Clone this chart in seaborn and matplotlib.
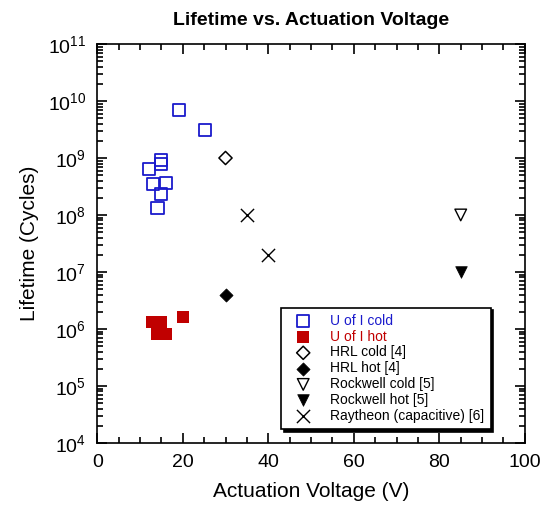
import numpy as np
import pandas as pd
import seaborn as sns
import matplotlib.pyplot as plt
from matplotlib.ticker import MultipleLocator, LogLocator

# Data (voltage in V, lifetime in cycles)
uofi_cold_v = [19.1, 25.1, 15.0, 15.0, 12.0, 13.0, 16.0, 15.0, 14.1]
uofi_cold_life = [6.9e9, 3.1e9, 9.2e8, 7.9e8, 6.4e8, 3.5e8, 3.6e8, 2.3e8, 1.3e8]

uofi_hot_v = [12.9, 15.0, 14.0, 16.2, 20.1]
uofi_hot_life = [1.3e6, 1.3e6, 8.3e5, 8.0e5, 1.6e6]

hrl_cold_v = [30]
hrl_cold_life = [1e9]
hrl_hot_v = [30]
hrl_hot_life = [4e6]

rockwell_cold_v = [85]
rockwell_cold_life = [1e8]
rockwell_hot_v = [85]
rockwell_hot_life = [1e7]

raytheon_v = [35, 40]
raytheon_life = [1e8, 2e7]

sns.set_style("ticks")
plt.rcParams["font.family"] = ["Liberation Sans", "DejaVu Sans"]
plt.rcParams["mathtext.fontset"] = "custom"
plt.rcParams["mathtext.rm"] = "Liberation Sans"
plt.rcParams["mathtext.it"] = "Liberation Sans"
for key in ["text.color", "axes.labelcolor", "xtick.color", "ytick.color", "axes.edgecolor"]:
    plt.rcParams[key] = "black"

blue = "#1a1acc"
red = "#c00000"

fig = plt.figure(figsize=(5.4, 5.18), dpi=100)
ax = fig.add_axes([0.180, 0.145, 0.792, 0.770])

series = [
    ("U of I cold", uofi_cold_v, uofi_cold_life,
     dict(marker="s", s=75, facecolor="none", edgecolor=blue, linewidth=1.3)),
    ("U of I hot", uofi_hot_v, uofi_hot_life,
     dict(marker="s", s=85, color=red, edgecolor=red, linewidth=0)),
    ("HRL cold [4]", hrl_cold_v, hrl_cold_life,
     dict(marker="D", s=45, facecolor="none", edgecolor="black", linewidth=1.1)),
    ("HRL hot [4]", hrl_hot_v, hrl_hot_life,
     dict(marker="D", s=45, color="black", edgecolor="black", linewidth=0.5)),
    ("Rockwell cold [5]", rockwell_cold_v, rockwell_cold_life,
     dict(marker="v", s=70, facecolor="none", edgecolor="black", linewidth=1.0)),
    ("Rockwell hot [5]", rockwell_hot_v, rockwell_hot_life,
     dict(marker="v", s=70, color="black", edgecolor="black", linewidth=0.5)),
    ("Raytheon (capacitive) [6]", raytheon_v, raytheon_life,
     dict(marker="x", s=90, color="black", linewidth=1.0)),
]

for name, xv, yv, kw in series:
    df = pd.DataFrame({"voltage": xv, "lifetime": yv})
    sns.scatterplot(data=df, x="voltage", y="lifetime", ax=ax, label=name, **kw)

ax.set_yscale("log")
ax.set_xlim(0, 100)
ax.set_ylim(1e4, 1e11)

ax.xaxis.set_major_locator(MultipleLocator(20))
ax.xaxis.set_minor_locator(MultipleLocator(5))
ax.yaxis.set_major_locator(LogLocator(base=10, numticks=20))
ax.yaxis.set_minor_locator(LogLocator(base=10, subs=np.arange(2, 10), numticks=20))

ax.tick_params(which="both", direction="in", top=True, right=True, width=1.2)
ax.tick_params(which="major", length=7, labelsize=14, pad=8)
ax.tick_params(which="minor", length=4)
for sp in ax.spines.values():
    sp.set_linewidth(1.2)

ax.set_xlabel("Actuation Voltage (V)", fontsize=15, labelpad=8)
ax.set_ylabel("Lifetime (Cycles)", fontsize=15, labelpad=6)
ax.set_title("Lifetime vs. Actuation Voltage", fontsize=14, fontweight="bold", pad=14)

leg = ax.legend(loc="lower right", bbox_to_anchor=(0.92, 0.035), fontsize=10,
                frameon=True, fancybox=False, edgecolor="black",
                shadow={"color": "black", "alpha": 1},
                handletextpad=0.8, labelspacing=0.13, borderpad=0.45,
                handlelength=2.3, borderaxespad=0)
leg.get_frame().set_linewidth(1.2)
leg.get_texts()[0].set_color(blue)
leg.get_texts()[1].set_color(red)

plt.savefig("out.png", dpi=100)
